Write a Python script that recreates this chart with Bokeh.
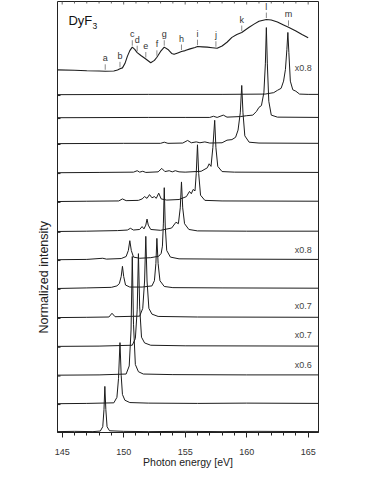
import numpy as np
from bokeh.plotting import figure
from bokeh.models import Range1d, FixedTicker, Label, Title
from bokeh.core.properties import value
from bokeh.embed import file_html
from bokeh.resources import INLINE

FONT = "Liberation Sans"
LINE_COLOR = "#1c1c1c"

# ---- X-ray absorption spectrum (top trace), photon energy [eV] vs intensity (plot units)
XAS_E = [144.6, 146.0, 147.0, 148.0, 148.5, 149.2, 149.5, 149.7, 149.9, 150.1, 150.3, 150.5,
         150.7, 150.9, 151.1, 151.4, 151.8, 152.2, 152.5, 152.7, 153.0, 153.3, 153.6, 153.9,
         154.1, 154.4, 154.7, 155.0, 155.4, 155.8, 156.0, 156.4, 156.8, 157.2, 157.6, 158.0,
         158.4, 158.8, 159.2, 159.6, 160.2, 160.6, 161.0, 161.6, 162.0, 162.5, 163.0, 163.4,
         164.0, 164.5, 165.0]
XAS_I = [12.59, 12.58, 12.56, 12.55, 12.545, 12.55, 12.59, 12.63, 12.66, 12.81, 13.06, 13.26,
         13.38, 13.30, 13.19, 13.09, 12.97, 12.84, 12.92, 13.03, 13.23, 13.38, 13.30, 13.16,
         13.13, 13.18, 13.23, 13.26, 13.32, 13.37, 13.40, 13.39, 13.38, 13.36, 13.34, 13.42,
         13.55, 13.72, 13.82, 13.89, 14.07, 14.18, 14.28, 14.34, 14.32, 14.25, 14.15, 14.07,
         13.94, 13.82, 13.71]

# ---- excitation energies marked on the absorption spectrum
EXC_LABELS = ["a", "b", "c", "d", "e", "f", "g", "h", "i", "j", "k", "l", "m"]
EXC_E = [148.5, 149.7, 150.7, 151.1, 151.8, 152.7, 153.3, 154.7, 156.0, 157.5, 159.6, 161.6, 163.4]
# vertical stacking offset of each emission spectrum
OFFSETS = [0.0, 0.97, 1.96, 2.96, 3.96, 4.97, 5.97, 6.95, 7.99, 8.99, 10.0, 10.9, 11.7]

# ---- emission spectra (energy, normalized intensity) for each excitation a..m
SPEC_A_E = [144.6, 146.0, 147.5, 148.1, 148.3, 148.4, 148.47, 148.55, 148.65, 148.85, 150.0, 152.0, 155.0, 158.0, 161.0, 165.9]
SPEC_A_I = [0.03, 0.04, 0.03, 0.05, 0.2, 0.8, 1.6, 0.8, 0.2, 0.06, 0.04, 0.03, 0.04, 0.03, 0.04, 0.03]

SPEC_B_E = [144.6, 147.0, 149.2, 149.45, 149.58, 149.7, 149.8, 149.9, 150.1, 150.5, 152.0, 156.0, 160.0, 165.9]
SPEC_B_I = [0.03, 0.04, 0.06, 0.25, 0.9, 2.15, 1.0, 0.35, 0.15, 0.07, 0.05, 0.04, 0.05, 0.04]

SPEC_C_E = [144.6, 148.0, 150.2, 150.45, 150.6, 150.7, 150.8, 150.95, 151.2, 151.6, 154.0, 160.0, 165.9]
SPEC_C_I = [0.03, 0.04, 0.07, 0.35, 1.6, 4.15, 1.8, 0.4, 0.15, 0.07, 0.05, 0.04, 0.04]

SPEC_D_E = [144.6, 148.0, 150.7, 150.95, 151.1, 151.2, 151.3, 151.45, 151.7, 152.2, 155.0, 165.9]
SPEC_D_I = [0.03, 0.04, 0.07, 0.3, 1.3, 3.25, 1.4, 0.35, 0.15, 0.07, 0.05, 0.04]

SPEC_E_E = [144.6, 147.0, 148.8, 149.05, 149.3, 151.3, 151.55, 151.7, 151.8, 151.9, 152.05, 152.3, 152.8, 156.0, 165.9]
SPEC_E_I = [0.03, 0.04, 0.05, 0.18, 0.06, 0.08, 0.35, 1.3, 2.85, 1.3, 0.35, 0.15, 0.07, 0.05, 0.04]

SPEC_F_E = [144.6, 147.0, 149.0, 149.45, 149.65, 149.8, 149.9, 150.0, 150.15, 150.5, 151.5, 152.3, 152.5,
            152.62, 152.7, 152.8, 152.95, 153.3, 154.0, 158.0, 165.9]
SPEC_F_I = [0.03, 0.05, 0.07, 0.12, 0.2, 0.45, 0.8, 0.45, 0.15, 0.08, 0.08, 0.12, 0.3,
            0.9, 1.77, 0.9, 0.3, 0.1, 0.06, 0.05, 0.04]

SPEC_G_E = [144.6, 147.0, 148.3, 148.6, 149.8, 150.2, 150.38, 150.5, 150.62, 150.8, 151.3, 152.2, 152.85,
            153.05, 153.15, 153.23, 153.3, 153.38, 153.5, 153.8, 154.5, 158.0, 165.9]
SPEC_G_I = [0.03, 0.04, 0.08, 0.05, 0.07, 0.14, 0.35, 0.69, 0.35, 0.12, 0.08, 0.1, 0.15,
            0.25, 0.5, 1.3, 2.53, 1.2, 0.35, 0.12, 0.06, 0.05, 0.04]

SPEC_H_E = [144.6, 147.0, 149.5, 150.3, 150.55, 150.8, 151.3, 151.5, 151.65, 151.8, 151.9, 152.0, 152.2,
            153.0, 153.9, 154.25, 154.45, 154.6, 154.7, 154.8, 154.95, 155.3, 156.0, 160.0, 165.9]
SPEC_H_I = [0.03, 0.04, 0.06, 0.08, 0.14, 0.08, 0.1, 0.2, 0.12, 0.25, 0.46, 0.25, 0.1,
            0.07, 0.15, 0.35, 0.3, 0.85, 1.75, 0.85, 0.3, 0.1, 0.05, 0.04, 0.04]

SPEC_I_E = [144.6, 147.0, 149.6, 149.9, 150.2, 151.2, 151.5, 151.7, 151.9, 152.1, 152.3, 152.5, 152.65,
            152.85, 153.05, 153.5, 154.5, 155.1, 155.35, 155.5, 155.65, 155.8, 155.9, 156.0, 156.1,
            156.25, 156.6, 158.0, 165.9]
SPEC_I_I = [0.03, 0.04, 0.05, 0.12, 0.06, 0.07, 0.12, 0.2, 0.14, 0.27, 0.16, 0.2, 0.14,
            0.32, 0.12, 0.08, 0.1, 0.2, 0.38, 0.3, 0.45, 0.4, 1.0, 2.0, 1.0,
            0.25, 0.07, 0.05, 0.04]

SPEC_J_E = [144.6, 148.0, 150.8, 151.1, 151.3, 151.55, 151.8, 152.8, 153.1, 153.35, 153.7, 153.95, 154.2,
            154.5, 155.0, 156.3, 156.8, 156.95, 157.1, 157.25, 157.4, 157.5, 157.65, 158.0, 159.0, 165.9]
SPEC_J_I = [0.03, 0.04, 0.05, 0.1, 0.05, 0.08, 0.04, 0.06, 0.18, 0.07, 0.1, 0.06, 0.1,
            0.06, 0.05, 0.08, 0.2, 0.34, 0.25, 0.9, 1.85, 0.9, 0.25, 0.07, 0.05, 0.04]

SPEC_K_E = [144.6, 150.0, 153.0, 153.3, 153.6, 154.8, 155.2, 155.5, 155.9, 156.2, 156.6, 157.0, 158.0,
            158.4, 158.8, 159.1, 159.3, 159.48, 159.6, 159.7, 159.85, 160.2, 161.0, 165.9]
SPEC_K_I = [0.03, 0.04, 0.04, 0.08, 0.04, 0.05, 0.14, 0.06, 0.09, 0.06, 0.09, 0.05, 0.06,
            0.15, 0.17, 0.25, 0.5, 1.1, 2.05, 1.1, 0.3, 0.08, 0.05, 0.04]

SPEC_L_E = [144.6, 152.0, 155.0, 157.0, 157.3, 157.6, 158.1, 158.4, 159.5, 160.0, 160.5, 160.8, 161.0,
            161.2, 161.4, 161.52, 161.6, 161.68, 161.8, 162.0, 162.5, 165.9]
SPEC_L_I = [0.03, 0.04, 0.04, 0.04, 0.08, 0.04, 0.12, 0.05, 0.07, 0.1, 0.12, 0.25, 0.39,
            0.45, 0.9, 1.9, 3.16, 1.9, 0.6, 0.12, 0.05, 0.04]

SPEC_M_E = [144.6, 152.0, 158.0, 161.5, 162.2, 162.5, 162.8, 163.0, 163.15, 163.27, 163.35, 163.43, 163.55,
            163.75, 164.0, 164.3, 165.0, 165.9]
SPEC_M_I = [0.03, 0.04, 0.04, 0.05, 0.1, 0.18, 0.25, 0.5, 0.9, 1.6, 2.19, 1.5, 0.5,
            0.2, 0.15, 0.05, 0.04, 0.04]

SPECTRA_E = [SPEC_A_E, SPEC_B_E, SPEC_C_E, SPEC_D_E, SPEC_E_E, SPEC_F_E, SPEC_G_E,
             SPEC_H_E, SPEC_I_E, SPEC_J_E, SPEC_K_E, SPEC_L_E, SPEC_M_E]
SPECTRA_I = [SPEC_A_I, SPEC_B_I, SPEC_C_I, SPEC_D_I, SPEC_E_I, SPEC_F_I, SPEC_G_I,
             SPEC_H_I, SPEC_I_I, SPEC_J_I, SPEC_K_I, SPEC_L_I, SPEC_M_I]

# ---- scaling factors written at the right
SCALE_TEXT = ["x0.8", "x0.8", "x0.7", "x0.7", "x0.6"]
SCALE_Y = [12.64, 6.35, 4.375, 3.37, 2.33]

X_TICKS = [145, 150, 155, 160, 165]
X_MINOR = list(range(145, 166))
X_START, X_END = 144.62, 165.84
Y_START, Y_END = 0.0, 14.965
PX_X = 12.3   # pixels per eV
PX_Y = 28.8   # pixels per intensity unit

p = figure(width=338, height=477,
           x_range=Range1d(X_START, X_END), y_range=Range1d(Y_START, Y_END),
           output_backend="svg", toolbar_location=None, y_axis_location=None,
           min_border_left=57, min_border_right=20, min_border_top=1, min_border_bottom=45)
p.xgrid.visible = False
p.ygrid.visible = False
p.outline_line_color = "#222222"
p.outline_line_width = 1
p.background_fill_color = "white"
p.border_fill_color = "white"

xa = p.xaxis[0]
xa.ticker = FixedTicker(ticks=X_TICKS, minor_ticks=X_MINOR)
xa.major_tick_out = 5
xa.major_tick_in = 0
xa.minor_tick_out = 3
xa.minor_tick_in = 0
xa.axis_line_color = "#222222"
xa.major_tick_line_color = "#222222"
xa.minor_tick_line_color = "#222222"
xa.major_label_text_font = FONT
xa.major_label_text_font_size = "9px"
xa.major_label_text_color = "#333333"
xa.major_label_standoff = 11
xa.axis_label = "Photon energy [eV]"
xa.axis_label_text_font = FONT
xa.axis_label_text_font_size = "10.5px"
xa.axis_label_text_font_style = "normal"
xa.axis_label_text_color = "#222222"
xa.axis_label_standoff = -2

# y axis title, placed on the left and shifted up from the frame bottom like the original
p.add_layout(Title(text="Normalized intensity", align="left", offset=99,
                   text_font=FONT, text_font_size="12.5px", text_font_style="normal",
                   text_color="#222222", standoff=14), "left")

# inward ticks on the left edge (one per spectrum baseline) and on the top edge
p.segment(x0=[X_START] * len(OFFSETS), y0=OFFSETS,
          x1=[X_START + 3 / PX_X] * len(OFFSETS), y1=OFFSETS,
          line_color="#222222", line_width=1)
p.segment(x0=X_MINOR, y0=[Y_END] * len(X_MINOR), x1=X_MINOR,
          y1=[Y_END - (3 if t in X_TICKS else 2) / PX_Y for t in X_MINOR],
          line_color="#666666", line_width=1)

# absorption spectrum
p.line(XAS_E, XAS_I, line_color=LINE_COLOR, line_width=1.1)

# emission spectra
for e_vals, i_vals, off in zip(SPECTRA_E, SPECTRA_I, OFFSETS):
    p.line(e_vals, np.array(i_vals) + off, line_color=LINE_COLOR, line_width=1.0)

# excitation markers on the absorption spectrum
curve = np.interp(EXC_E, XAS_E, XAS_I)
letter_y = np.minimum(curve + 0.45, Y_END - 0.18)
tick_bottom = curve + 0.05
tick_top = np.maximum(np.minimum(curve + 0.24, letter_y - 0.2), tick_bottom)
p.segment(x0=EXC_E, y0=tick_bottom, x1=EXC_E, y1=tick_top, line_color="#8a8a8a", line_width=1)
p.text(x=EXC_E, y=letter_y, text=EXC_LABELS, text_font=value(FONT), text_font_size="9px",
       text_align="center", text_baseline="middle", text_color="#333333")

# scale factors
p.text(x=[164.6] * len(SCALE_TEXT), y=SCALE_Y, text=SCALE_TEXT, text_font=value(FONT),
       text_font_size="9px", text_align="center", text_baseline="middle", text_color="#444444")

# sample name
p.add_layout(Label(x=145.51, y=14.31, text="DyF", text_font=FONT, text_font_size="13px",
                   text_baseline="alphabetic", text_align="left", text_color="#111111"))
p.add_layout(Label(x=147.47, y=14.12, text="3", text_font=FONT, text_font_size="8.5px",
                   text_baseline="alphabetic", text_align="left", text_color="#111111"))

open("out.html", "w").write(file_html(p, INLINE))
